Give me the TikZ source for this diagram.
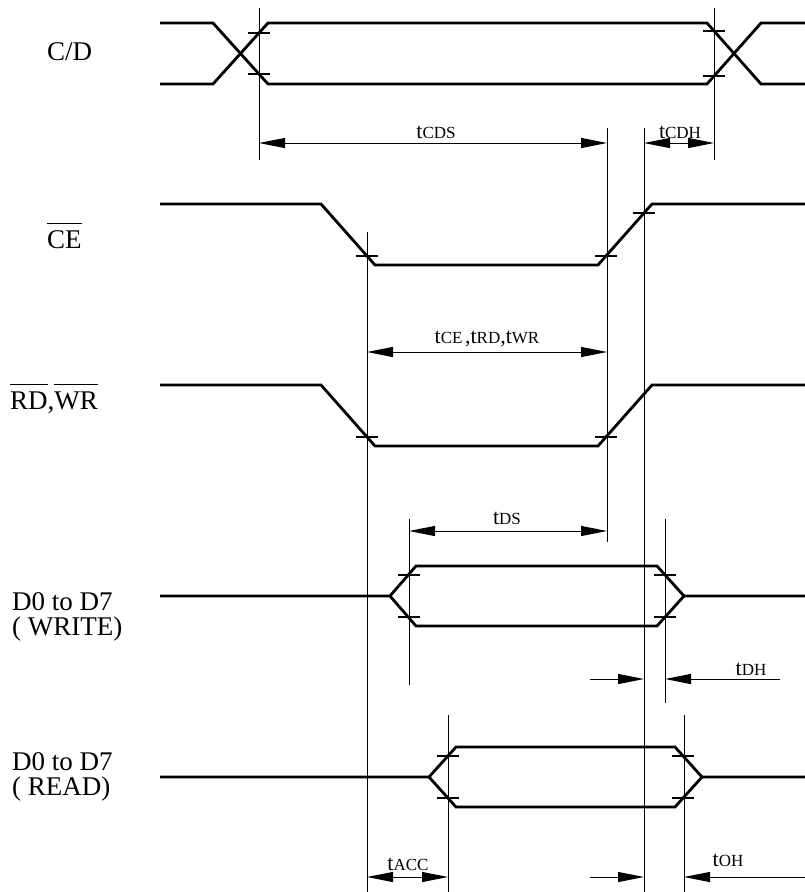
\documentclass[tikz,border=0pt]{standalone}
\usepackage{fontspec}
\setmainfont{Liberation Serif}
\usetikzlibrary{arrows.meta}
\newcommand{\barred}[1]{\vbox{\hrule height 1.5pt\kern 6pt\hbox{#1}}}
\newcommand{\tname}[1]{{\fontsize{22}{22}\selectfont t}{\fontsize{17}{17}\selectfont #1}}
\newcommand{\tcomma}{{\fontsize{22}{22}\selectfont ,}}
\begin{document}
\begin{tikzpicture}[x=1pt,y=-1pt,
  sig/.style={line width=2.8pt},
  guide/.style={line width=1pt},
  tickmark/.style={line width=1.4pt},
  dim/.style={line width=1pt},
  >={Triangle[length=26pt,width=10pt]},
  lbl/.style={inner sep=0pt, anchor=base west, font=\fontsize{27}{25}\selectfont},
  tlbl/.style={inner sep=0pt, anchor=base}]
\useasboundingbox (0,0) rectangle (805,892);
\node[lbl] (cd) at (47,60) {C/D};
\node[lbl] (ce) at (47,248) {\barred{CE}};
\node[lbl] (rdwr) at (10,409) {\barred{RD},\barred{WR}};
\node[lbl] (dwr) at (12,610) {\vtop{\baselineskip=25pt\hbox{D0 to D7}\hbox{( WRITE)}}};
\node[lbl] (drd) at (12,770) {\vtop{\baselineskip=25pt\hbox{D0 to D7}\hbox{( READ)}}};
\draw[sig] (160,23) -- (213,23) -- (268,84) -- (707,84) -- (761,23) -- (805,23);
\draw[sig] (160,84) -- (213,84) -- (268,23) -- (707,23) -- (761,84) -- (805,84);
\draw[sig] (160,204) -- (321,204) -- (375,265) -- (598,265) -- (652,204) -- (805,204);
\draw[sig] (160,385) -- (321,385) -- (375,446) -- (598,446) -- (652,385) -- (805,385);
\draw[sig] (160,596) -- (390,596) -- (416,566) -- (657,566) -- (684,596) -- (805,596);
\draw[sig] (390,596) -- (416,626) -- (657,626) -- (684,596);
\draw[sig] (160,777) -- (429,777) -- (456,747) -- (675,747) -- (702,777) -- (805,777);
\draw[sig] (429,777) -- (456,807) -- (675,807) -- (702,777);
\foreach \x/\y in {259/33,259/74,714/31,714/76,367/256,606/256,644/213,367/437,606/437,
  409/575,409/617,665/575,665/617,448/756,448/798,683/756,683/798}
  \draw[tickmark] (\x-11,\y) -- (\x+11,\y);
\coordinate (g1a) at (259,8);
\coordinate (g1b) at (259,160);
\coordinate (g2a) at (714,8);
\coordinate (g2b) at (714,160);
\coordinate (g3a) at (607,128);
\coordinate (g3b) at (607,542);
\coordinate (g4a) at (644,128);
\coordinate (g4b) at (644,892);
\coordinate (g5a) at (367,232);
\coordinate (g5b) at (367,892);
\coordinate (g6a) at (409,519);
\coordinate (g6b) at (409,685);
\coordinate (g7a) at (665,519);
\coordinate (g7b) at (665,703);
\coordinate (g8a) at (448,715);
\coordinate (g8b) at (448,892);
\coordinate (g9a) at (684,715);
\coordinate (g9b) at (684,892);
\draw[guide] (g1a) -- (g1b);
\draw[guide] (g2a) -- (g2b);
\draw[guide] (g3a) -- (g3b);
\draw[guide] (g4a) -- (g4b);
\draw[guide] (g5a) -- (g5b);
\draw[guide] (g6a) -- (g6b);
\draw[guide] (g7a) -- (g7b);
\draw[guide] (g8a) -- (g8b);
\draw[guide] (g9a) -- (g9b);
\coordinate (cdsL) at (259,143);
\coordinate (cdsR) at (607,143);
\coordinate (cdhL) at (644,143);
\coordinate (cdhR) at (714,143);
\coordinate (ceL) at (367,352);
\coordinate (ceR) at (607,352);
\coordinate (dsL) at (409,531);
\coordinate (dsR) at (607,531);
\coordinate (dhL) at (590,679);
\coordinate (dhA) at (644,679);
\coordinate (dhB) at (665,679);
\coordinate (dhR) at (780,679);
\coordinate (accL) at (367,877);
\coordinate (accR) at (448,877);
\coordinate (ohL) at (590,877);
\coordinate (ohA) at (644,877);
\coordinate (ohB) at (684,877);
\coordinate (ohR) at (805,877);
\draw[dim,<->] (cdsL) -- (cdsR);
\draw[dim,<->] (cdhL) -- (cdhR);
\draw[dim,<->] (ceL) -- (ceR);
\draw[dim,<->] (dsL) -- (dsR);
\draw[dim,->] (dhL) -- (dhA);
\draw[dim,->] (dhR) -- (dhB);
\draw[dim,<->] (accL) -- (accR);
\draw[dim,->] (ohL) -- (ohA);
\draw[dim,->] (ohR) -- (ohB);
\node[tlbl] (tcds) at (436,138) {\tname{CDS}};
\node[tlbl] (tcdh) at (680,138) {\tname{CDH}};
\node[tlbl] (tce) at (487,343) {\tname{CE} \tcomma\tname{RD}\tcomma\tname{WR}};
\node[tlbl] (tds) at (507,524) {\tname{DS}};
\node[tlbl] (tdh) at (751,675) {\tname{DH}};
\node[tlbl] (tacc) at (408,870) {\tname{ACC}};
\node[tlbl] (toh) at (728,866) {\tname{OH}};
\end{tikzpicture}
\end{document}
